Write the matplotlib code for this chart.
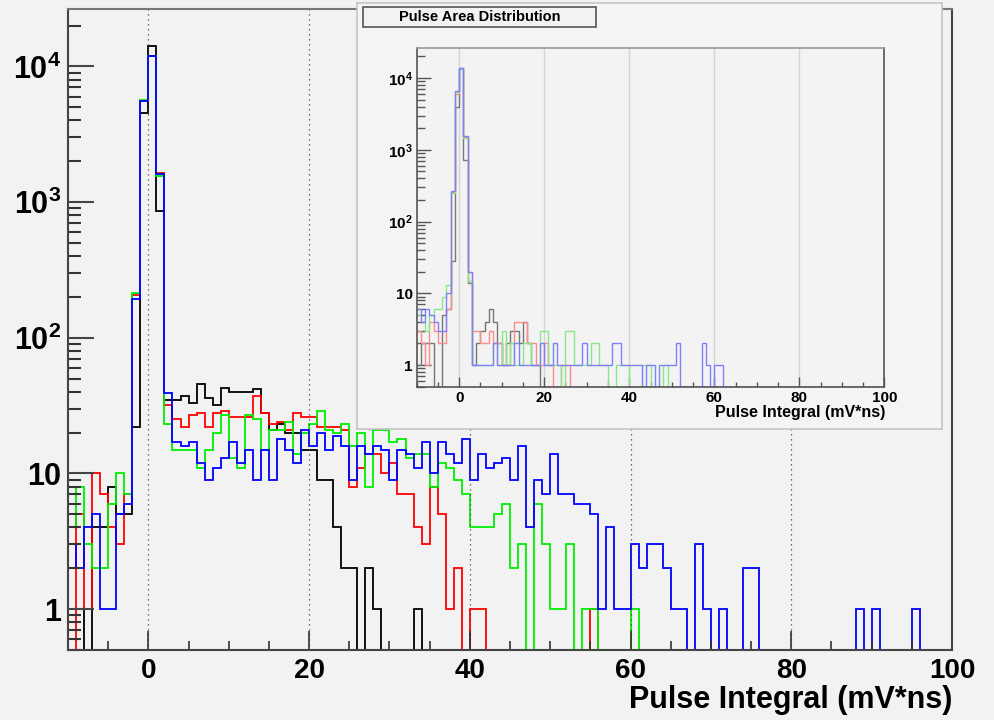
import numpy as np
import matplotlib
matplotlib.use('Agg')
import matplotlib.pyplot as plt
from matplotlib.ticker import MultipleLocator, FixedLocator, FixedFormatter, LogLocator, NullFormatter
from matplotlib.patches import Rectangle

plt.rcParams['font.family'] = ['Liberation Sans', 'DejaVu Sans']
plt.rcParams['font.weight'] = 'bold'
plt.rcParams['mathtext.fontset'] = 'custom'
plt.rcParams['mathtext.rm'] = 'Liberation Sans:bold'
plt.rcParams['mathtext.bf'] = 'Liberation Sans:bold'
plt.rcParams['mathtext.it'] = 'Liberation Sans:bold'

# 1 mV*ns bins from -10 to 100
edges = np.arange(-10, 101, 1)

# main histograms (counts per bin, bins -10 .. 99)
black = [1, 1, 0, 4, 4, 8, 5, 5, 22, 4530, 14050, 863,
         35, 35, 37, 33, 46, 36, 32, 43, 40, 40, 40, 42,
         28, 21, 23, 20, 20, 15, 15,
         9, 9, 4, 2, 2, 0, 2, 1,
         0, 0, 0, 0, 1] + [0] * 66
red = [0, 5, 1, 10, 7, 4, 3, 7, 205, 5600, 12000, 1637,
       32, 25, 22, 27, 28, 22, 28, 29, 26, 26, 26, 37,
       28, 23, 24, 21, 28, 26, 26,
       22, 22, 22, 21, 8, 11, 14, 14,
       10, 12, 7, 7, 4, 3, 8, 5, 1, 2, 0, 1, 1] + [0] * 13 + [1] + [0] * 44
green = [4, 8, 3, 2, 2, 6, 10, 7, 213, 5650, 12000, 1545,
         23, 15, 15, 15, 11, 15, 20, 27, 13, 11, 27, 25,
         15, 21, 21, 24, 14, 20, 23,
         29, 21, 20, 23, 16, 20, 8, 21,
         21, 17, 18, 13, 14, 14, 8, 12, 11, 9, 7, 4, 4,
         4, 5, 6, 2, 3, 0, 6, 3, 1, 1, 3, 0, 1, 1,
         0, 0, 0, 0, 1] + [0] * 39
blue = [3, 2, 4, 5, 1, 1, 5, 6, 193, 5560, 12000, 1600,
        39, 17, 16, 17, 12, 9, 11, 13, 17, 12, 15, 9,
        15, 9, 18, 15, 12, 21, 16,
        20, 15, 19, 16, 9, 16, 14, 16,
        15, 9, 15, 14, 11, 17, 10, 17, 14, 12, 18, 9, 14,
        11, 12, 13, 9, 16, 4, 9, 7, 14, 7, 7, 6, 6, 5,
        1, 4, 1, 1, 3, 2, 3, 3, 2, 1, 1, 0, 3, 1, 0, 1, 0, 0, 2, 2] + [0] * 12 + \
       [1, 0, 1, 0, 0, 0, 0, 1] + [0] * 4

# inset histograms (bins -10 .. 62, empty above)
in_black = [1, 2, 2, 2, 0, 0, 5, 6, 28, 4000, 14000, 730, 14,
            1, 2, 3, 4, 6, 4, 2, 1, 2, 3, 3, 2, 4, 2, 1, 1, 0, 0] + [0] * 42 + [0] * 37
in_red = [3, 2, 1, 4, 3, 2, 2, 6, 260, 6000, 13500, 1500, 20,
          3, 3, 2, 2, 3, 2, 2, 1, 1, 2, 4, 4, 4, 2, 2, 1, 1, 2,
          1, 0, 0, 1, 1, 0, 0, 0, 0, 0, 0, 0, 0, 0, 0, 0, 0, 0, 0, 0] + [0] * 22 + [0] * 37
in_green = [5, 4, 3, 5, 6, 6, 9, 13, 250, 6300, 13500, 1450, 15,
            1, 1, 1, 1, 1, 2, 1, 3, 1, 2, 1, 1, 2, 2, 1, 1, 3, 3,
            1, 1, 1, 0, 3, 3, 1, 1, 1, 1, 2, 2, 1, 1, 0, 0, 1, 1, 1, 0,
            0, 0, 1, 1, 0, 0, 0, 1, 0, 0, 0, 0, 0, 0, 0, 0, 0, 0, 0, 0, 0, 0] + [0] * 37
in_blue = [6, 4, 6, 5, 4, 3, 3, 10, 265, 6500, 13800, 1540, 20,
           1, 1, 1, 1, 1, 2, 1, 1, 1, 1, 2, 1, 1, 1, 1, 1, 2, 1,
           1, 2, 1, 1, 1, 1, 1, 1, 2, 1, 1, 1, 1, 1, 1, 2, 2, 1, 1, 1,
           1, 1, 0, 1, 1, 0, 1, 1, 1, 1, 2, 0, 0, 0, 0, 0, 2, 1, 0, 1, 1, 0] + [0] * 37

series = [(black, 'black'), (red, '#ff0000'), (green, '#00ee00'), (blue, '#0000ff')]
inset_series = [(in_black, '#777777'), (in_red, '#ff8a8a'), (in_green, '#88e888'), (in_blue, '#8080ff')]

ytick_vals = [1, 10, 100, 1000, 10000]
ytick_text = ['1', '10', r'$\mathbf{10^{2}}$', r'$\mathbf{10^{3}}$', r'$\mathbf{10^{4}}$']
ylo, yhi = 0.5, 26500   # empty bins sit on the lower edge, as in ROOT
bg = '#f2f2f2'

W, H = 994, 720
def fig_rect(x0, y0, x1, y1):
    return [x0 / W, 1 - y1 / H, (x1 - x0) / W, (y1 - y0) / H]

fig = plt.figure(figsize=(9.94, 7.2), dpi=100, facecolor=bg)

# ---- main pad
ax = fig.add_axes(fig_rect(68, 9, 952, 650), zorder=0)
ax.set_facecolor(bg)
for vals, c in series:
    ax.stairs(np.maximum(vals, ylo), edges, baseline=None, color=c, lw=1.3)
ax.set_yscale('log')
ax.set_xlim(-10, 100)
ax.set_ylim(ylo, yhi)
ax.xaxis.set_major_locator(MultipleLocator(20))
ax.xaxis.set_minor_locator(MultipleLocator(5))
ax.yaxis.set_major_locator(FixedLocator(ytick_vals))
ax.yaxis.set_major_formatter(FixedFormatter(ytick_text))
ax.yaxis.set_minor_locator(LogLocator(subs=np.arange(2, 10)))
ax.yaxis.set_minor_formatter(NullFormatter())
ax.tick_params(axis='x', which='major', direction='in', length=14, width=1.2,
               labelsize=20, pad=6, color='#333333')
ax.tick_params(axis='x', which='minor', direction='in', length=6.5, width=1.2, color='#333333')
ax.tick_params(axis='y', which='major', direction='in', length=19, width=1.5,
               labelsize=22, pad=5, color='#444444')
ax.tick_params(axis='y', which='minor', direction='in', length=9.5, width=1.5, color='#333333')
ax.grid(axis='x', which='major', linestyle=(0, (1, 3)), color='#444444', lw=0.9)
for s in ax.spines.values():
    s.set_color('#444444')
    s.set_linewidth(1.5)
ax.spines['top'].set_color('#777777')
fig.text(952 / W, 1 - 700 / H, 'Pulse Integral (mV*ns)', ha='right', va='center',
         fontsize=22, fontweight='bold')

# ---- inset pad
pad = fig.add_axes(fig_rect(357, 3, 942, 429), zorder=1)
pad.set_facecolor('#f4f4f4')
pad.set_xticks([])
pad.set_yticks([])
for s in pad.spines.values():
    s.set_color('#c4c4c4')
    s.set_linewidth(1.2)
tb = fig_rect(363, 7, 596, 27)
pad.add_patch(Rectangle((tb[0], tb[1]), tb[2], tb[3], transform=fig.transFigure,
                        facecolor='#f2f2f2', edgecolor='#555555', lw=1.2, clip_on=False))
fig.text(tb[0] + tb[2] / 2, tb[1] + tb[3] / 2, 'Pulse Area Distribution', ha='center',
         va='center', fontsize=10.5, fontweight='bold', zorder=3)

ins = fig.add_axes(fig_rect(416.7, 47.7, 884.3, 386.7), zorder=2)
ins.set_facecolor('#f3f3f3')
for vals, c in inset_series:
    ins.stairs(np.maximum(vals, ylo), edges, baseline=None, color=c, lw=1.0)
ins.set_yscale('log')
ins.set_xlim(-10, 100)
ins.set_ylim(ylo, yhi)
ins.xaxis.set_major_locator(MultipleLocator(20))
ins.xaxis.set_minor_locator(MultipleLocator(5))
ins.yaxis.set_major_locator(FixedLocator(ytick_vals))
ins.yaxis.set_major_formatter(FixedFormatter(ytick_text))
ins.yaxis.set_minor_locator(LogLocator(subs=np.arange(2, 10)))
ins.yaxis.set_minor_formatter(NullFormatter())
ins.tick_params(axis='x', which='major', direction='in', length=7, width=1,
                labelsize=11, pad=3, color='#555555')
ins.tick_params(axis='x', which='minor', direction='in', length=3.5, width=1, color='#555555')
ins.tick_params(axis='y', which='major', direction='in', length=10, width=1,
                labelsize=11, pad=3, color='#555555')
ins.tick_params(axis='y', which='minor', direction='in', length=5.5, width=1, color='#555555')
ins.grid(axis='x', which='major', linestyle='-', color='#d4d4d4', lw=1.0)
ins.set_axisbelow(True)
for s in ins.spines.values():
    s.set_color('#555555')
    s.set_linewidth(1.2)
ins.spines['top'].set_color('#999999')
fig.text(885 / W, 1 - 412 / H, 'Pulse Integral (mV*ns)', ha='right', va='center',
         fontsize=11.5, fontweight='bold', zorder=3)

fig.savefig('out.png', dpi=100, facecolor=bg)
